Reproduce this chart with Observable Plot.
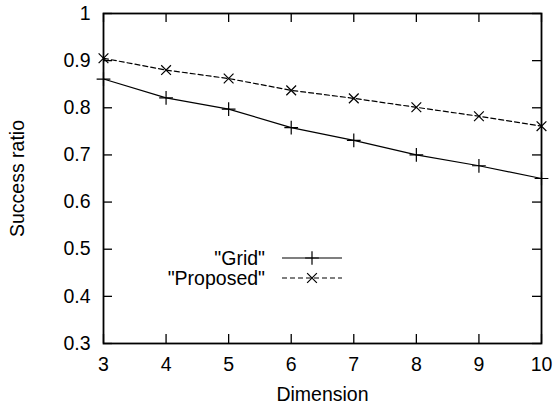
<!DOCTYPE html>
<html>
<head>
<meta charset="utf-8">
<script src="https://cdn.jsdelivr.net/npm/d3@7"></script>
<script src="https://cdn.jsdelivr.net/npm/@observablehq/plot@0.6"></script>
<style>
  html, body { margin: 0; padding: 0; background: #fff; }
</style>
</head>
<body>
<div id="chart"></div>
<script>
// Success ratio against problem dimension for two methods
const dims = [3, 4, 5, 6, 7, 8, 9, 10];
const grid = [0.861, 0.821, 0.797, 0.758, 0.731, 0.700, 0.677, 0.650];
const proposed = [0.905, 0.880, 0.862, 0.837, 0.820, 0.801, 0.782, 0.761];
const seriesNames = ['"Grid"', '"Proposed"'];
const yTicks = [0.3, 0.4, 0.5, 0.6, 0.7, 0.8, 0.9, 1];

// layout
const W = 556, H = 410;
const mL = 103, mR = 15, mT = 13, mB = 67;
const fw = W - mL - mR, fh = H - mT - mB;
const tickLen = 9;
const font = '"Liberation Sans", Arial, Helvetica, sans-serif';
const fs = 19.5;
const markR = 4.5;

const gridRows = dims.map((d, i) => ({dim: d, value: grid[i], series: seriesNames[0]}));
const propRows = dims.map((d, i) => ({dim: d, value: proposed[i], series: seriesNames[1]}));

const chart = Plot.plot({
  width: W,
  height: H,
  marginLeft: mL,
  marginRight: mR,
  marginTop: mT,
  marginBottom: mB,
  style: {fontFamily: font, fontSize: fs + "px", background: "#fff", color: "#000", overflow: "visible"},
  x: {domain: [3, 10]},
  y: {domain: [0.3, 1]},
  marks: [
    // inward ticks on all four sides
    Plot.tickX(dims, {x: d => d, insetTop: fh - tickLen, stroke: "#000", strokeWidth: 1.3}),
    Plot.tickX(dims, {x: d => d, insetBottom: fh - tickLen, stroke: "#000", strokeWidth: 1.3}),
    Plot.tickY(yTicks, {y: d => d, insetRight: fw - tickLen, stroke: "#000", strokeWidth: 1.3}),
    Plot.tickY(yTicks, {y: d => d, insetLeft: fw - tickLen, stroke: "#000", strokeWidth: 1.3}),
    // series
    Plot.line(gridRows, {x: "dim", y: "value", stroke: "#000", strokeWidth: 1.2}),
    Plot.dot(gridRows, {x: "dim", y: "value", symbol: "plus", r: markR, stroke: "#000", strokeWidth: 1.2}),
    Plot.line(propRows, {x: "dim", y: "value", stroke: "#000", strokeWidth: 1.2, strokeDasharray: "5,3"}),
    Plot.dot(propRows, {x: "dim", y: "value", symbol: "times", r: markR, stroke: "#000", strokeWidth: 1.2}),
    Plot.frame({stroke: "#000", strokeWidth: 1.8}),
    // tick labels
    Plot.axisX({ticks: dims, tickSize: 0, tickPadding: 14, fontSize: fs, label: null, fill: "#000",
                tickFormat: d3.format("~g")}),
    Plot.axisY({ticks: yTicks, tickSize: 0, tickPadding: 13, fontSize: fs, label: null, fill: "#000",
                tickFormat: d3.format("~g")}),
    // axis titles
    Plot.text(["Dimension"], {frameAnchor: "bottom", lineAnchor: "middle", textAnchor: "middle",
                              dy: 51, text: d => d, fontSize: fs, fill: "#000"}),
    Plot.text(["Success ratio"], {frameAnchor: "left", lineAnchor: "middle", textAnchor: "middle",
                                  dx: -86, rotate: -90, text: d => d, fontSize: fs, fill: "#000"})
  ]
});

// key, placed inside the plotting area
const svg = d3.select(chart);
const key = svg.append("g").attr("font-family", font).attr("font-size", fs);
const keyTextX = 265, keyLineX1 = 282, keyLineX2 = 342, keyMarkX = 312;
const keyRowY = [258, 278];
const keySymbols = [d3.symbolPlus, d3.symbolTimes];
const keyDash = [null, "5,3"];
seriesNames.forEach((name, i) => {
  const y = keyRowY[i];
  key.append("text")
    .attr("x", keyTextX).attr("y", y).attr("dy", "0.35em")
    .attr("text-anchor", "end").attr("fill", "#000")
    .text(name);
  key.append("line")
    .attr("x1", keyLineX1).attr("x2", keyLineX2).attr("y1", y).attr("y2", y)
    .attr("stroke", "#000").attr("stroke-width", 1.2)
    .attr("stroke-dasharray", keyDash[i]);
  key.append("path")
    .attr("transform", `translate(${keyMarkX},${y})`)
    .attr("d", d3.symbol(keySymbols[i], markR * markR * Math.PI)())
    .attr("fill", "none").attr("stroke", "#000").attr("stroke-width", 1.2);
});

document.getElementById("chart").appendChild(chart);
</script>
</body>
</html>
